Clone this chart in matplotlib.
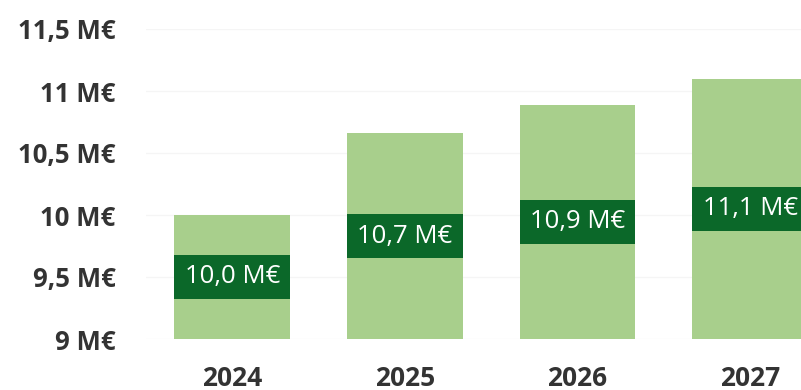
import numpy as np
import matplotlib.pyplot as plt

# Chiffre d'affaires prévisionnel (M€)
annees = ['2024', '2025', '2026', '2027']
valeurs = [10.0, 10.66, 10.89, 11.1]
etiquettes = ['10,0 M€', '10,7 M€', '10,9 M€', '11,1 M€']
yticks = [9, 9.5, 10, 10.5, 11, 11.5]
ytick_labels = ['9 M€', '9,5 M€', '10 M€', '10,5 M€', '11 M€', '11,5 M€']

plt.rcParams['font.family'] = ['Open Sans', 'DejaVu Sans']

base = 9.0
vert_clair = '#a8cf8c'
vert_fonce = '#0b6829'
gris = '#333333'

fig = plt.figure(figsize=(8.01, 3.90), dpi=100)
ax = fig.add_axes([146/801, 51/390, (801-146)/801, 310/390])

x = np.arange(len(annees))
larg = 0.67
hauteurs = [v - base for v in valeurs]
ax.bar(x, hauteurs, bottom=base, width=larg, color=vert_clair, zorder=2)

# boites des etiquettes au milieu de la partie visible des barres
h_boite = 0.355
centres = [base + h/2 for h in hauteurs]
ax.bar(x, h_boite, bottom=[c - h_boite/2 for c in centres], width=larg,
       color=vert_fonce, zorder=3)
for xi, c, txt in zip(x, centres, etiquettes):
    ax.text(xi, c, txt, ha='center', va='center', color='white',
            fontsize=18.5, zorder=4)

ax.set_ylim(9, 11.5)
ax.set_xlim(-0.5, (801 - 232) / 172.7)
ax.set_yticks(yticks)
ax.set_yticklabels(ytick_labels, fontsize=18.5, fontweight='bold', color=gris)
ax.set_xticks(x)
ax.set_xticklabels(annees, fontsize=19, fontweight='bold', color=gris)
ax.tick_params(axis='y', length=0, pad=22)
ax.tick_params(axis='x', length=0, pad=19)
ax.grid(axis='y', color='#f5f5f5', lw=1, zorder=0)
for s in ax.spines.values():
    s.set_visible(False)

fig.savefig('out.png', dpi=100)
